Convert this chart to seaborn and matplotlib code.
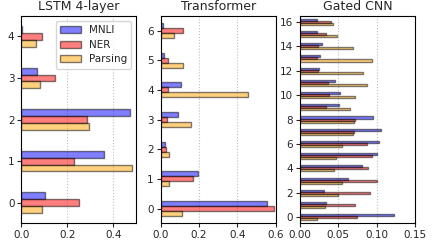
"""
Horizontal bar charts of per-layer scores for three encoders (LSTM, Transformer, Gated CNN),
one bar per task.
"""

## Import packages
import pandas as pd
import matplotlib
matplotlib.use('Agg')
import matplotlib.pyplot as plt
import seaborn as sns
from matplotlib.patches import Patch


## Data
tasks = ['MNLI', 'NER', 'Parsing']

lstm_mnli = [0.103, 0.357, 0.471, 0.067, 0.004]
lstm_ner = [0.249, 0.229, 0.286, 0.146, 0.091]
lstm_parsing = [0.089, 0.479, 0.293, 0.079, 0.063]

trans_mnli = [0.556, 0.197, 0.022, 0.091, 0.104, 0.015, 0.014]
trans_ner = [0.590, 0.171, 0.026, 0.032, 0.036, 0.036, 0.116]
trans_parsing = [0.113, 0.046, 0.043, 0.159, 0.455, 0.115, 0.072]

cnn_mnli = [0.1226, 0.0335, 0.0317, 0.063, 0.081, 0.101, 0.1026, 0.105, 0.0957,
            0.0509, 0.052, 0.0457, 0.0248, 0.0265, 0.029, 0.022, 0.022]
cnn_ner = [0.0748, 0.0722, 0.0917, 0.1009, 0.089, 0.094, 0.087, 0.0704, 0.0717,
           0.0343, 0.0378, 0.037, 0.024, 0.0217, 0.024, 0.0343, 0.040]
cnn_parsing = [0.0226, 0.0326, 0.0496, 0.0548, 0.0448, 0.0465, 0.055, 0.0696, 0.0704,
               0.0652, 0.0713, 0.087, 0.082, 0.094, 0.0687, 0.0487, 0.0435]

panels = [
    ('LSTM 4-layer', [lstm_mnli, lstm_ner, lstm_parsing], [0.0, 0.2, 0.4], 0.5, '{:.1f}'),
    ('Transformer', [trans_mnli, trans_ner, trans_parsing], [0.0, 0.2, 0.4, 0.6], 0.6, '{:.1f}'),
    ('Gated CNN', [cnn_mnli, cnn_ner, cnn_parsing], [0.0, 0.05, 0.10, 0.15], 0.15, '{:.2f}'),
]


## Plot
sns.set_theme(style='ticks')
plt.rcParams['font.family'] = ['DejaVu Sans']

colors = ['blue', 'red', 'orange']

fig, axes = plt.subplots(1, 3, figsize=(4.36, 2.42), dpi=100)
fig.subplots_adjust(left=0.049, right=0.952, top=0.935, bottom=0.077, wspace=0.21)

for ax, (title, series, xticks, xmax, fmt) in zip(axes, panels):
    # Build long-form table for this panel
    n = len(series[0])
    rows = []
    for task, vals in zip(tasks, series):
        for layer, v in enumerate(vals):
            rows.append({'layer': str(layer), 'task': task, 'value': v})
    df = pd.DataFrame(rows)

    order = [str(i) for i in range(n)][::-1]
    sns.barplot(data=df, y='layer', x='value', hue='task', order=order,
                hue_order=tasks, palette=colors, saturation=1, orient='h',
                width=0.5, alpha=0.5, edgecolor='black', linewidth=1,
                legend=False, ax=ax)

    ax.set_title(title, fontsize=9, pad=4, color='#262626')
    ax.set_xlim(0, xmax)
    ax.set_xticks(xticks)
    ax.set_xticklabels([fmt.format(t) for t in xticks])
    ax.set_xlabel('')
    ax.set_ylabel('')

    # Only every other label for the deep model
    if n > 10:
        pos = list(range(0, n, 2))
        ax.set_yticks(pos)
        ax.set_yticklabels([order[p] for p in pos])

    ax.grid(axis='x', linestyle=':', color='#c0c0c0', linewidth=0.8)
    ax.set_axisbelow(True)
    ax.tick_params(labelsize=7.5, length=3, width=0.8, pad=2)
    for s in ax.spines.values():
        s.set_color('black')
        s.set_linewidth(0.8)


## Legend
legend_elements = [Patch(facecolor=c, alpha=0.5, edgecolor='black', label=t)
                   for c, t in zip(colors, tasks)]
axes[0].legend(handles=legend_elements, loc='upper right', fontsize=7.5,
               fancybox=True, framealpha=0.8, borderpad=0.4, labelspacing=0.45,
               handlelength=2.0)

plt.savefig('out.png', dpi=100)
